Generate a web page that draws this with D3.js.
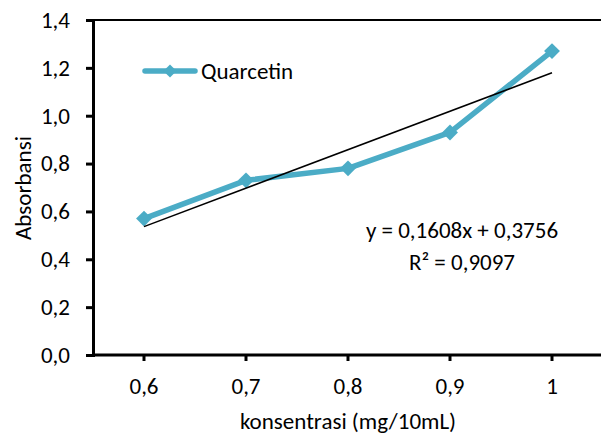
<!DOCTYPE html>
<html>
<head>
<meta charset="utf-8">
<script src="https://cdn.jsdelivr.net/npm/d3@7"></script>
<style>
  body { margin: 0; background: #fff; }
  text { font-family: Carlito, Calibri, "Open Sans", sans-serif; fill: #000; }
</style>
</head>
<body>
<div id="chart"></div>
<script>
var categories = ["0,6", "0,7", "0,8", "0,9", "1"];
var absorbansi = [0.57, 0.73, 0.78, 0.93, 1.27];
var yTicks = [0, 0.2, 0.4, 0.6, 0.8, 1.0, 1.2, 1.4];
var trendSlope = 0.1608;
var trendIntercept = 0.3756;
var seriesName = "Quarcetin";

function chart() {
    var w = 601;
    var h = 434;
    var color = "#4bacc6";
    var fs = "23px";

    var svg = d3.select("#chart")
        .append("svg")
        .attr("width", w)
        .attr("height", h);

    var x = d3.scaleBand()
        .domain(categories)
        .range([93, 603]);

    var y = d3.scaleLinear()
        .domain([0, 1.4])
        .range([355, 20]);

    var fmt = function (d) { return d3.format(".1f")(d).replace(".", ","); };

    // top border of plot area
    svg.append("line")
        .attr("x1", 93).attr("x2", w)
        .attr("y1", y(1.4)).attr("y2", y(1.4))
        .attr("stroke", "#000").attr("stroke-width", 2);

    var yAxis = svg.append("g")
        .attr("transform", "translate(93,0)")
        .call(d3.axisLeft(y).tickValues(yTicks).tickFormat(fmt).tickSize(7).tickPadding(16));

    var xAxis = svg.append("g")
        .attr("transform", "translate(0,355)")
        .call(d3.axisBottom(x).tickSize(6).tickPadding(17));

    [yAxis, xAxis].forEach(function (g) {
        g.select(".domain").attr("stroke", "#000").attr("stroke-width", 3);
        g.selectAll(".tick line").attr("stroke", "#000").attr("stroke-width", 3);
        g.selectAll(".tick text").style("font-size", fs);
    });
    xAxis.select(".domain").attr("d", "M93,0H" + w);

    // data line
    var line = d3.line()
        .x(function (d, i) { return x(categories[i]) + x.bandwidth() / 2; })
        .y(function (d) { return y(d); });

    svg.append("path")
        .datum(absorbansi)
        .attr("d", line)
        .attr("fill", "none")
        .attr("stroke", color)
        .attr("stroke-width", 5.5)
        .attr("stroke-linejoin", "round");

    var diamond = d3.symbol().type(d3.symbolDiamond2).size(160);

    svg.selectAll(".marker")
        .data(absorbansi)
        .enter()
        .append("path")
        .attr("class", "marker")
        .attr("d", diamond)
        .attr("fill", color)
        .attr("transform", function (d, i) {
            return "translate(" + (x(categories[i]) + x.bandwidth() / 2) + "," + y(d) + ")";
        });

    // linear trendline (x = category index 1..n)
    var n = categories.length;
    svg.append("line")
        .attr("x1", x(categories[0]) + x.bandwidth() / 2)
        .attr("y1", y(trendSlope * 1 + trendIntercept))
        .attr("x2", x(categories[n - 1]) + x.bandwidth() / 2)
        .attr("y2", y(trendSlope * n + trendIntercept))
        .attr("stroke", "#000")
        .attr("stroke-width", 1.5);

    // equation labels
    svg.append("text")
        .attr("x", 462).attr("y", 238)
        .attr("text-anchor", "middle")
        .style("font-size", fs)
        .text("y = 0,1608x + 0,3756");
    svg.append("text")
        .attr("x", 462).attr("y", 270)
        .attr("text-anchor", "middle")
        .style("font-size", fs)
        .text("R² = 0,9097");

    // legend
    svg.append("line")
        .attr("x1", 145).attr("x2", 195)
        .attr("y1", 71).attr("y2", 71)
        .attr("stroke", color).attr("stroke-width", 5.5)
        .attr("stroke-linecap", "round");
    svg.append("path")
        .attr("d", d3.symbol().type(d3.symbolDiamond2).size(110))
        .attr("fill", color)
        .attr("transform", "translate(170,71)");
    svg.append("text")
        .attr("x", 201).attr("y", 79)
        .style("font-size", fs)
        .text(seriesName);

    // axis titles
    svg.append("text")
        .attr("x", 348).attr("y", 429)
        .attr("text-anchor", "middle")
        .style("font-size", fs)
        .text("konsentrasi (mg/10mL)");
    svg.append("text")
        .attr("transform", "translate(31,188) rotate(-90)")
        .attr("text-anchor", "middle")
        .style("font-size", fs)
        .text("Absorbansi");
}

window.onload = chart;
</script>
</body>
</html>
